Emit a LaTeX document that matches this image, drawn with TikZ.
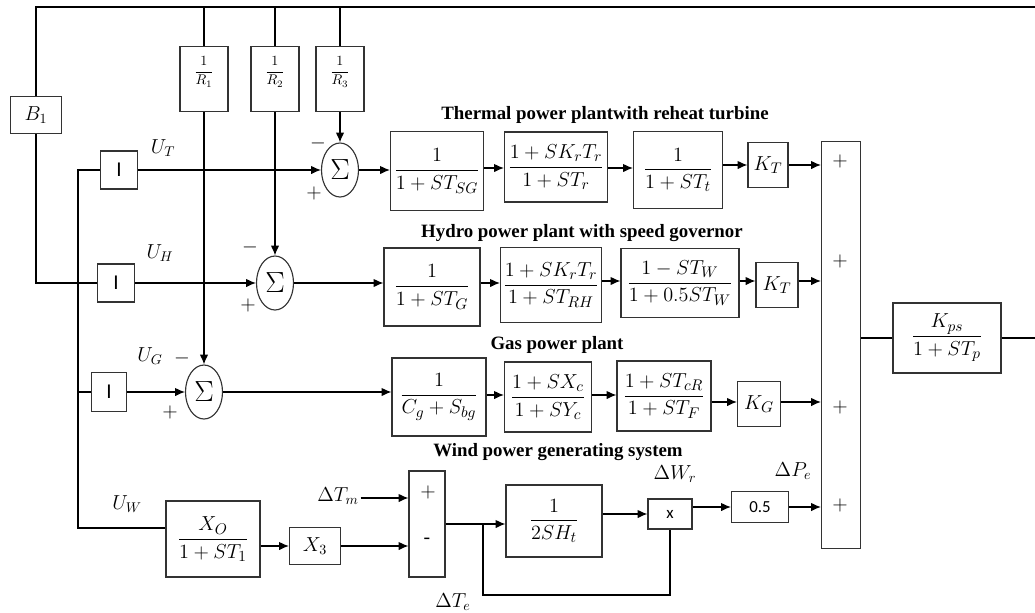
\documentclass[tikz,border=0pt]{standalone}
\usepackage{amsmath}
\usepackage{fontspec}
\setmainfont{Liberation Serif}
\setsansfont{Carlito}
\usetikzlibrary{arrows.meta, shapes.geometric}

\begin{document}
\begin{tikzpicture}[x=0.025cm, y=-0.025cm, line width=0.8pt,
  blk/.style={draw=black!80, inner sep=0pt, font=\fontsize{15}{17}\selectfont},
  smallblk/.style={draw=black!80, inner sep=0pt, font=\fontsize{14}{16}\selectfont},
  sumnode/.style={draw=black!80, ellipse, inner sep=0pt, minimum width=0.925cm, minimum height=1.35cm, font=\fontsize{20}{22}\selectfont},
  arr/.style={-{Latex[length=7pt,width=6pt]}},
  ttl/.style={font=\bfseries\fontsize{13.4}{15}\selectfont},
  lbl/.style={font=\fontsize{14}{16}\selectfont},
  sig/.style={font=\fontsize{14}{16}\selectfont, inner sep=0pt}]
  % frame: 1 unit = 1 px of the 1035x613 sheet
  \useasboundingbox (0,0) rectangle (1035,613);
  \coordinate (topL) at (36,7);
  \coordinate (topR) at (1035,7);
  % Feedback gains
  \node[smallblk, minimum width=1.275cm, minimum height=0.925cm] (b1) at (36,115) {$B_1$};
  \node[smallblk, minimum width=1.2cm, minimum height=1.625cm] (r1) at (204,79) {};
  \node[smallblk, minimum width=1.2cm, minimum height=1.625cm] (r2) at (275,79) {};
  \node[smallblk, minimum width=1.2cm, minimum height=1.625cm] (r3) at (340,79) {};
  \foreach \r/\i in {r1/1,r2/2,r3/3} {
    \node[font=\fontsize{10}{12}\selectfont, inner sep=0pt] at ([yshift=-0.65cm]\r.north) {$\dfrac{1}{R_{\i}}$};
  }
  % Integrators
  \node[blk, minimum width=0.925cm, minimum height=0.95cm] (i_t) at (119,170) {\sffamily I};
  \node[blk, minimum width=0.925cm, minimum height=0.95cm] (i_h) at (116,283) {\sffamily I};
  \node[blk, minimum width=0.875cm, minimum height=0.975cm] (i_g) at (109,392) {\sffamily I};
  % Summing junctions
  \node[sumnode] (s_t) at (340,170) {$\Sigma$};
  \node[sumnode] (s_h) at (275,283) {$\Sigma$};
  \node[sumnode] (s_g) at (204,392) {$\Sigma$};
  % Thermal row
  \node[ttl] at (605,115) {Thermal power plantwith reheat turbine};
  \node[blk, minimum width=2.325cm, minimum height=1.975cm] (tb_1) at (437,171) {$\dfrac{1}{1+ST_{SG}}$};
  \node[blk, minimum width=2.575cm, minimum height=1.75cm] (tb_2) at (556,167) {$\dfrac{1+SK_rT_r}{1+ST_r}$};
  \node[blk, minimum width=2.225cm, minimum height=1.925cm] (tb_3) at (678,170) {$\dfrac{1}{1+ST_t}$};
  \node[blk, minimum width=1.0cm, minimum height=1.125cm] (kt_1) at (768,165) {$K_T$};
  % Hydro row
  \node[ttl] at (582,233) {Hydro power plant with speed governor};
  \node[blk, minimum width=2.4cm, minimum height=1.95cm] (hb_1) at (432,287) {$\dfrac{1}{1+ST_G}$};
  \node[blk, minimum width=2.525cm, minimum height=1.875cm] (hb_2) at (551,285) {$\dfrac{1+SK_rT_r}{1+ST_{RH}}$};
  \node[blk, minimum width=2.95cm, minimum height=1.725cm] (hb_3) at (680,283) {$\dfrac{1-ST_W}{1+0.5ST_W}$};
  \node[blk, minimum width=1.05cm, minimum height=1.125cm] (kt_2) at (777,285) {$K_T$};
  % Gas row
  \node[ttl] at (557,345) {Gas power plant};
  \node[blk, minimum width=2.35cm, minimum height=1.95cm] (gb_1) at (439,397) {$\dfrac{1}{C_g+S_{bg}}$};
  \node[blk, minimum width=2.175cm, minimum height=1.75cm] (gb_2) at (548,397) {$\dfrac{1+SX_c}{1+SY_c}$};
  \node[blk, minimum width=2.35cm, minimum height=1.75cm] (gb_3) at (664,396) {$\dfrac{1+ST_{cR}}{1+ST_F}$};
  \node[blk, minimum width=1.075cm, minimum height=1.125cm] (kg) at (759,404) {$K_G$};
  % Wind row
  \node[ttl] at (558,452) {Wind power generating system};
  \node[blk, minimum width=2.35cm, minimum height=1.9cm] (w_xo) at (213,539) {$\dfrac{X_O}{1+ST_1}$};
  \node[smallblk, minimum width=1.275cm, minimum height=0.925cm] (w_x3) at (315,546) {$X_3$};
  \node[smallblk, minimum width=0.9cm, minimum height=2.65cm] (w_s) at (427,524) {};
  \node[blk, minimum width=2.4cm, minimum height=1.8cm] (w_h) at (554,521) {$\dfrac{1}{2SH_t}$};
  \node[smallblk, font=\fontsize{12}{14}\selectfont, minimum width=1.1cm, minimum height=0.75cm] (w_mul) at (670,514) {\sffamily x};
  \node[smallblk, font=\fontsize{12}{14}\selectfont, minimum width=1.425cm, minimum height=0.775cm] (w_half) at (760,507) {\sffamily 0.5};
  % Power system
  \node[smallblk, minimum width=0.975cm, minimum height=10.175cm] (ps) at (841,345) {};
  \node[blk, minimum width=2.7cm, minimum height=1.75cm] (kps) at (947,338) {$\dfrac{K_{ps}}{1+ST_p}$};
  % Signal labels
  \node[lbl] at (163,148) {$U_T$};
  \node[lbl] at (160,253) {$U_H$};
  \node[lbl] at (150,356) {$U_G$};
  \node[lbl] at (127,504) {$U_W$};
  \node[lbl, inner sep=1pt] (dtm) at (338,496) {$\Delta T_m$};
  \node[lbl] at (453,602) {$\Delta T_e$};
  \node[lbl] at (675,474) {$\Delta W_r$};
  \node[lbl] at (793,471) {$\Delta P_e$};
  % Signs
  \node[sig] at (318,143) {$-$};
  \node[sig] at (314,193) {$+$};
  \node[sig] at (250,247) {$-$};
  \node[sig] at (248,305) {$+$};
  \node[sig] at (182,358) {$-$};
  \node[sig] at (170,412) {$+$};
  \node[sig] at (428,492) {$+$};
  \node[sig] at (427,541) {-};
  \foreach \y in {161,261,407,505} {
    \node[sig] at (840,\y) {$+$};
  }
  % Frequency feedback lines
  \draw (b1.north) -- (topL) -- (topR);
  \draw (b1.south) |- (i_h.west);
  \foreach \r in {r1,r2,r3} {
    \draw (\r.north) -- (\r.north |- topL);
  }
  \draw[arr] (r1.south) -- (s_g.north);
  \draw[arr] (r2.south) -- (s_h.north);
  \draw[arr] (r3.south) -- (s_t.north);
  \coordinate (v_t) at (78,170);
  \coordinate (v_w) at (78,528);
  \draw (i_t.west) -- (v_t) -- (v_w) -- (v_w -| w_xo.west);
  \draw (i_g.west) -- (i_g.west -| v_t);
  \draw[arr] (i_t) -- (s_t);
  \draw[arr] (i_h) -- (s_h);
  \draw[arr] (i_g) -- (s_g);
  % Forward paths
  \draw[arr] (s_t.east) -- (s_t.east -| tb_1.west);
  \draw[arr] (tb_1.east |- 0,168) -- (tb_2.west |- 0,168);
  \draw[arr] (tb_2.east |- 0,168) -- (tb_3.west |- 0,168);
  \draw[arr] (tb_3.east |- kt_1) -- (kt_1.west);
  \draw[arr] (kt_1.east) -- (kt_1.east -| ps.west);
  \draw[arr] (s_h.east) -- (s_h.east -| hb_1.west);
  \draw[arr] (hb_1.east |- 0,283) -- (hb_2.west |- 0,283);
  \draw[arr] (hb_2.east |- 0,281) -- (hb_3.west |- 0,281);
  \draw[arr] (hb_3.east |- 0,281) -- (kt_2.west |- 0,281);
  \draw[arr] (kt_2.east |- 0,281) -- (ps.west |- 0,281);
  \draw[arr] (s_g.east) -- (s_g.east -| gb_1.west);
  \draw[arr] (gb_1.east |- 0,395) -- (gb_2.west |- 0,395);
  \draw[arr] (gb_2.east |- 0,395) -- (gb_3.west |- 0,395);
  \draw[arr] (gb_3.east |- 0,402) -- (kg.west |- 0,402);
  \draw[arr] (kg.east |- 0,402) -- (ps.west |- 0,402);
  % Wind path
  \draw[arr] (w_x3.west -| w_xo.east) -- (w_x3.west);
  \draw[arr] (w_x3.east) -- (w_x3.east -| w_s.west);
  \draw[arr] (dtm.east |- 0,498) -- (w_s.west |- 0,498);
  \draw[arr] (w_s.east) -- (w_s.east -| w_h.west);
  \coordinate (jn) at (483,524);
  \coordinate (fb) at (670,595);
  \draw (jn) |- (fb) -- (w_mul.south);
  \draw[arr] (w_mul.west -| w_h.east) -- (w_mul.west);
  \draw[arr] (w_half.west -| w_mul.east) -- (w_half.west);
  \draw[arr] (w_half.east) -- (w_half.east -| ps.west);
  % Output
  \draw (kps.west) -- (kps.west -| ps.east);
  \draw (kps.east) -- (kps.east -| topR);
\end{tikzpicture}
\end{document}
